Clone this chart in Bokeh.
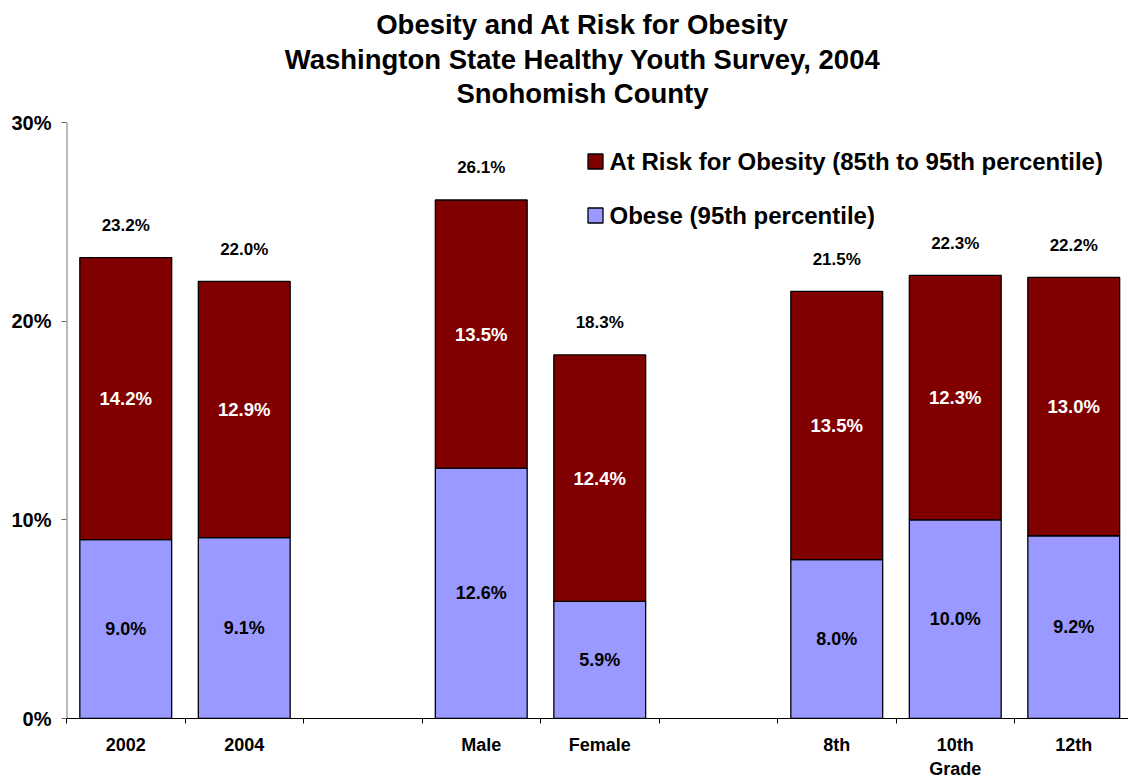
from bokeh.plotting import figure
from bokeh.models import ColumnDataSource, Range1d, FixedTicker
from bokeh.core.properties import value
from bokeh.embed import file_html
from bokeh.resources import INLINE

# Healthy Youth Survey results (percent of students)
groups = [["2002", "2004"], ["Male", "Female"], ["8th", "10th", "12th"]]
obese = [9.0, 9.1, 12.6, 5.9, 8.0, 10.0, 9.2]
at_risk = [14.2, 12.9, 13.5, 12.4, 13.5, 12.3, 13.0]
series_names = ["At Risk for Obesity (85th to 95th percentile)", "Obese (95th percentile)"]
y_ticks = [0, 10, 20, 30]
y_tick_labels = ["0%", "10%", "20%", "30%"]
title_lines = [
    "Obesity and At Risk for Obesity",
    "Washington State Healthy Youth Survey, 2004",
    "Snohomish County",
]
grade_caption = "Grade"

FONT = "Liberation Sans"
RISK_COLOR = "#800000"
OBESE_COLOR = "#9999FF"

# one slot per bar, with an empty slot between groups
categories, xs = [], []
slot = 0
for gi, g in enumerate(groups):
    if gi:
        slot += 1
    for name in g:
        categories.append(name)
        xs.append(slot + 0.5)
        slot += 1
n_slots = slot

totals = [round(o + r, 1) for o, r in zip(obese, at_risk)]

# canvas geometry (pixels)
W, H = 1128, 781
LEFT, BOTTOM = 66, 63
AXIS_TOP = 122            # where the 30% tick sits
SLOT_PX = 118.5
Y_MAX = 30.0
frame_bottom = H - BOTTOM
px_per_unit = (frame_bottom - AXIS_TOP) / Y_MAX

def data_x(sx):
    return (sx - LEFT) / SLOT_PX

def data_y(sy):
    return (frame_bottom - sy) / px_per_unit

# the frame runs up to the top of the canvas so the heading can be drawn in it
p = figure(width=W, height=H,
           x_range=Range1d(0, data_x(W)), y_range=Range1d(0, data_y(0)),
           output_backend="svg", toolbar_location=None,
           min_border_left=LEFT, min_border_right=0, min_border_top=0,
           min_border_bottom=BOTTOM)
p.grid.visible = False
p.outline_line_color = None
p.background_fill_color = "white"
p.border_fill_color = "white"

# y axis: ticks and labels from the axis, line only up to 30%
ya = p.yaxis[0]
ya.ticker = FixedTicker(ticks=y_ticks)
ya.major_label_overrides = {t: l for t, l in zip(y_ticks, y_tick_labels)}
ya.axis_line_color = None
ya.major_tick_line_color = "#666666"
ya.major_tick_in = 0
ya.major_tick_out = 5
ya.minor_tick_line_color = None
ya.major_label_text_font = FONT
ya.major_label_text_font_style = "bold"
ya.major_label_text_font_size = "20px"
ya.major_label_text_color = "black"
ya.major_label_standoff = 10
p.segment(x0=[0], y0=[0], x1=[0], y1=[Y_MAX], line_color="#777777", line_width=2)

# x axis: labels at bar centres, tick marks at slot boundaries
xa = p.xaxis[0]
xa.ticker = FixedTicker(ticks=xs, minor_ticks=list(range(n_slots + 1)))
labels = {}
for x, c in zip(xs, categories):
    labels[x] = c + ("\n" + grade_caption if c == "10th" else "")
xa.major_label_overrides = labels
xa.axis_line_color = "black"
xa.major_tick_line_color = None
xa.major_tick_in = 0
xa.major_tick_out = 0
xa.minor_tick_line_color = "black"
xa.minor_tick_in = 0
xa.minor_tick_out = 5
xa.major_label_text_font = FONT
xa.major_label_text_font_style = "bold"
xa.major_label_text_font_size = "18px"
xa.major_label_text_color = "black"
xa.major_label_standoff = 11

src = ColumnDataSource(dict(
    x=xs, obese=obese, at_risk=at_risk, total=totals,
    obese_mid=[o / 2 for o in obese],
    risk_mid=[o + r / 2 for o, r in zip(obese, at_risk)],
    obese_txt=[f"{o:.1f}%" for o in obese],
    risk_txt=[f"{r:.1f}%" for r in at_risk],
    total_txt=[f"{t:.1f}%" for t in totals],
))

BAR_W = 0.775
r_obese = p.vbar(x="x", bottom=0, top="obese", width=BAR_W, source=src,
                 fill_color=OBESE_COLOR, line_color="black", line_width=1.3)
r_risk = p.vbar(x="x", bottom="obese", top="total", width=BAR_W, source=src,
                fill_color=RISK_COLOR, line_color="black", line_width=1.3)

common = dict(source=src, text_font=value(FONT), text_font_style="bold",
              text_align="center", text_baseline="middle")
p.text(x="x", y="obese_mid", text="obese_txt", text_color="black",
       text_font_size="18px", **common)
p.text(x="x", y="risk_mid", text="risk_txt", text_color="white",
       text_font_size="18.5px", **common)
p.text(x="x", y="total", text="total_txt", text_color="black",
       text_font_size="17px", y_offset=-32, **common)

# heading
title_cx = data_x(582)
p.text(x=[title_cx] * len(title_lines),
       y=[data_y(24 + i * 34.5) for i in range(len(title_lines))],
       text=title_lines, text_font=value(FONT), text_font_style="bold",
       text_font_size="27.5px", text_align="center", text_baseline="middle",
       text_color="black")

# legend: swatches and captions
key_sx, key_text_sx = 595, 609
key_sy = [161, 215]
swatch_colors = [RISK_COLOR, OBESE_COLOR]
p.rect(x=[data_x(key_sx)] * 2, y=[data_y(s) for s in key_sy],
       width=15, height=15, width_units="screen", height_units="screen",
       fill_color=swatch_colors, line_color="black", line_width=1.3)
p.text(x=[data_x(key_text_sx)] * 2, y=[data_y(s) for s in key_sy],
       text=series_names, text_font=value(FONT), text_font_style="bold",
       text_font_size="24px", text_align="left", text_baseline="middle",
       text_color="black")

open("out.html", "w").write(file_html(p, INLINE))
